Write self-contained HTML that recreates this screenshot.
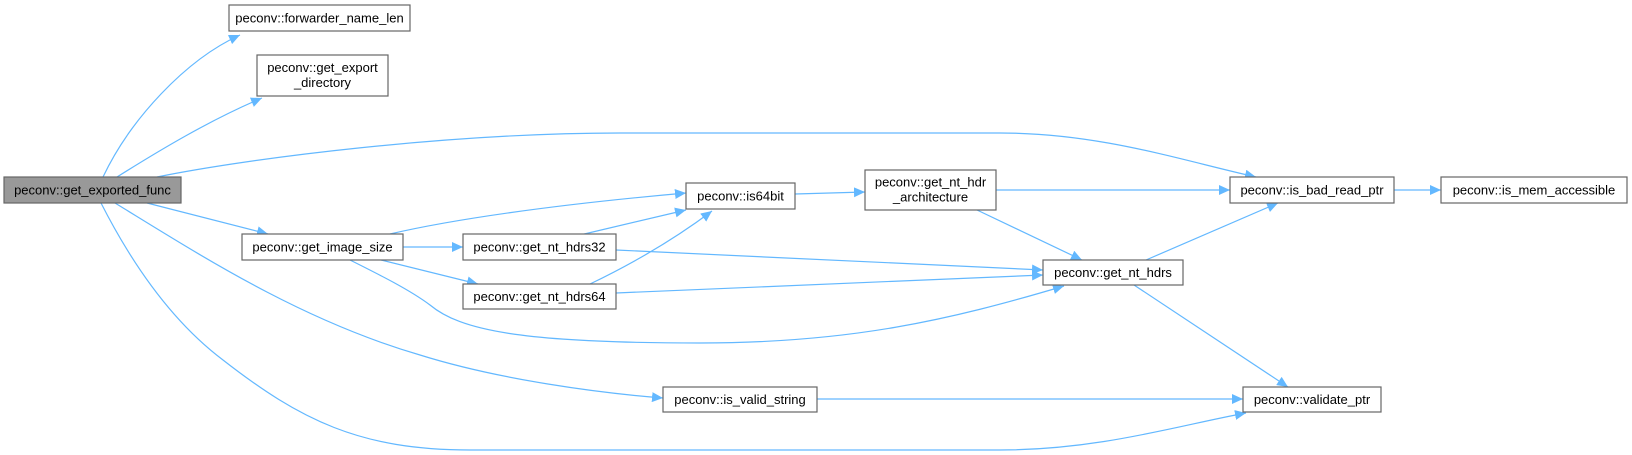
<!DOCTYPE html>
<html><head><meta charset="utf-8"><style>
html,body{margin:0;padding:0;background:#fff;}
svg{display:block;}
text{font-family:"Liberation Sans",Arial,sans-serif;font-size:13px;fill:#000;}
.n{fill:#fff;stroke:#666;stroke-width:1.2;}
.e{fill:none;stroke:#63b8ff;stroke-width:1.2;}
</style></head><body>
<svg width="1632" height="455" viewBox="0 0 1632 455" xmlns="http://www.w3.org/2000/svg">
<defs>
<marker id="a" markerUnits="userSpaceOnUse" markerWidth="12" markerHeight="10" refX="11" refY="5" orient="auto">
<path d="M0,0 L11,5 L0,10 Z" fill="#63b8ff"/>
</marker>
</defs>
<g class="e" marker-end="url(#a)">
<path d="M103,177 C130,120 185,60 240,35"/>
<path d="M117,177 C160,150 210,120 262,98"/>
<path d="M157,177 C250,158 450,133 620,133 L1000,133 C1100,133 1180,160 1256,177"/>
<path d="M147,203 L268,234"/>
<path d="M115,203 C200,255 300,320 420,355 C500,380 600,393 663,398"/>
<path d="M101,203 C130,260 170,320 223,360 C300,420 360,450 470,450 L1000,450 C1100,450 1180,425 1246,413"/>
<path d="M403,247 L463,247"/>
<path d="M381,260 L478,284"/>
<path d="M390,234 C450,220 550,205 686,193"/>
<path d="M350,260 C380,275 410,290 430,305 C460,330 520,343 700,343 C850,343 950,320 1064,286"/>
<path d="M580,235 L686,210"/>
<path d="M616,250 L1043,270"/>
<path d="M590,284 C640,260 680,235 712,211"/>
<path d="M616,293 L1043,275"/>
<path d="M795,194 L865,192"/>
<path d="M996,190 L1230,190"/>
<path d="M977,210 L1082,260"/>
<path d="M1146,260 L1278,203"/>
<path d="M1134,285 L1288,387"/>
<path d="M817,399 L1243,399"/>
<path d="M1394,190 L1441,190"/>
</g>
<rect x="4" y="177" width="177" height="26" fill="#999" stroke="#666" stroke-width="1.2"/>
<text x="92.5" y="194.5" text-anchor="middle">peconv::get_exported_func</text>
<rect class="n" x="229" y="5" width="181" height="26"/>
<text x="319.5" y="22.5" text-anchor="middle">peconv::forwarder_name_len</text>
<rect class="n" x="257" y="55" width="131" height="41"/>
<text x="322.5" y="72" text-anchor="middle">peconv::get_export</text>
<text x="322.5" y="87" text-anchor="middle">_directory</text>
<rect class="n" x="242" y="234" width="161" height="26"/>
<text x="322.5" y="251.5" text-anchor="middle">peconv::get_image_size</text>
<rect class="n" x="463" y="234" width="153" height="26"/>
<text x="539.5" y="251.5" text-anchor="middle">peconv::get_nt_hdrs32</text>
<rect class="n" x="463" y="284" width="153" height="25"/>
<text x="539.5" y="301" text-anchor="middle">peconv::get_nt_hdrs64</text>
<rect class="n" x="686" y="183" width="109" height="26"/>
<text x="740.5" y="200.5" text-anchor="middle">peconv::is64bit</text>
<rect class="n" x="865" y="170" width="131" height="40"/>
<text x="930.5" y="186.5" text-anchor="middle">peconv::get_nt_hdr</text>
<text x="930.5" y="201.5" text-anchor="middle">_architecture</text>
<rect class="n" x="1043" y="260" width="140" height="25"/>
<text x="1113" y="277" text-anchor="middle">peconv::get_nt_hdrs</text>
<rect class="n" x="663" y="387" width="154" height="25"/>
<text x="740" y="404" text-anchor="middle">peconv::is_valid_string</text>
<rect class="n" x="1230" y="177" width="164" height="26"/>
<text x="1312" y="194.5" text-anchor="middle">peconv::is_bad_read_ptr</text>
<rect class="n" x="1441" y="177" width="186" height="26"/>
<text x="1534" y="194.5" text-anchor="middle">peconv::is_mem_accessible</text>
<rect class="n" x="1243" y="387" width="138" height="25"/>
<text x="1312" y="404" text-anchor="middle">peconv::validate_ptr</text>
</svg>
</body></html>
